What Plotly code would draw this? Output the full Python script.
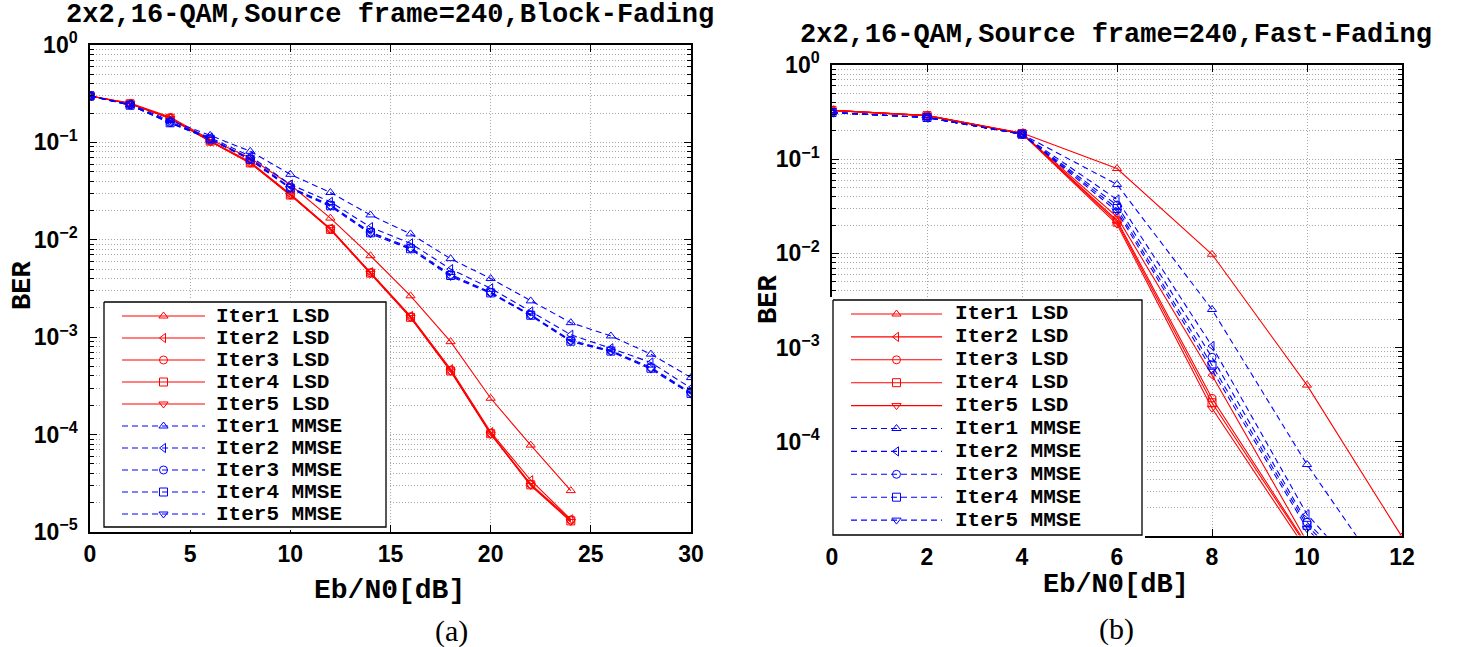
import plotly.graph_objects as go

# ---------------- data ----------------
x_block_lsd = [0, 2, 4, 6, 8, 10, 12, 14, 16, 18, 20, 22, 24]
x_block_mmse = [0, 2, 4, 6, 8, 10, 12, 14, 16, 18, 20, 22, 24, 26, 28, 30]

block_lsd1 = [0.30, 0.254, 0.182, 0.107, 0.069, 0.0367, 0.0167, 0.00686, 0.00266, 0.00090, 0.000236, 7.8e-5, 2.66e-5]
block_lsd2 = [0.30, 0.250, 0.178, 0.104, 0.063, 0.0295, 0.0130, 0.00465, 0.00165, 0.00047, 0.000106, 3.4e-5, 1.35e-5]
block_lsd3 = [0.30, 0.250, 0.177, 0.103, 0.062, 0.0290, 0.0129, 0.00458, 0.00162, 0.000455, 0.000103, 3.1e-5, 1.33e-5]
block_lsd4 = [0.30, 0.249, 0.177, 0.103, 0.0615, 0.0288, 0.0128, 0.00455, 0.00160, 0.00045, 0.000102, 3.05e-5, 1.30e-5]
block_lsd5 = [0.30, 0.249, 0.176, 0.102, 0.0612, 0.0287, 0.0127, 0.00452, 0.00159, 0.000448, 0.000101, 3.0e-5, 1.28e-5]

block_mmse1 = [0.30, 0.245, 0.168, 0.118, 0.081, 0.047, 0.0306, 0.0180, 0.0115, 0.0064, 0.0040, 0.00236, 0.00141, 0.00103, 0.00067, 0.000385]
block_mmse2 = [0.30, 0.243, 0.163, 0.112, 0.072, 0.037, 0.0245, 0.0135, 0.0092, 0.0050, 0.00318, 0.00184, 0.00106, 0.00077, 0.00055, 0.00030]
block_mmse3 = [0.30, 0.242, 0.160, 0.109, 0.068, 0.0345, 0.0228, 0.0120, 0.0083, 0.0044, 0.00290, 0.00170, 0.00093, 0.00073, 0.00049, 0.00027]
block_mmse4 = [0.30, 0.241, 0.159, 0.108, 0.067, 0.0340, 0.0224, 0.0118, 0.0081, 0.0043, 0.00285, 0.00168, 0.00091, 0.00072, 0.00048, 0.000265]
block_mmse5 = [0.30, 0.241, 0.158, 0.108, 0.066, 0.0335, 0.0220, 0.0115, 0.0080, 0.0042, 0.00282, 0.00166, 0.00090, 0.00071, 0.00047, 0.00026]

x_fast = [0, 2, 4, 6, 8, 10, 12]
fast_lsd1 = [0.33, 0.292, 0.190, 0.0796, 0.0098, 0.00040, 9.8e-6]
fast_lsd2 = [0.33, 0.290, 0.188, 0.0244, 0.00051, 8.7e-6, None]
fast_lsd3 = [0.33, 0.290, 0.187, 0.0225, 0.00029, 8.0e-6, None]
fast_lsd4 = [0.33, 0.290, 0.187, 0.0215, 0.00026, 7.7e-6, None]
fast_lsd5 = [0.33, 0.290, 0.187, 0.0204, 0.000227, 7.0e-6, None]

fast_mmse1 = [0.313, 0.277, 0.184, 0.054, 0.00254, 5.75e-5, 2.0e-6]
fast_mmse2 = [0.313, 0.277, 0.184, 0.0374, 0.00104, 1.7e-5, 1.3e-6]
fast_mmse3 = [0.313, 0.277, 0.184, 0.0325, 0.00079, 1.4e-5, 1.4e-6]
fast_mmse4 = [0.313, 0.277, 0.184, 0.0300, 0.00065, 1.3e-5, 1.2e-6]
fast_mmse5 = [0.313, 0.277, 0.184, 0.0280, 0.00058, 1.2e-5, 1.1e-6]

series_names = ["Iter1 LSD", "Iter2 LSD", "Iter3 LSD", "Iter4 LSD", "Iter5 LSD",
                "Iter1 MMSE", "Iter2 MMSE", "Iter3 MMSE", "Iter4 MMSE", "Iter5 MMSE"]

block_x_list = [x_block_lsd] * 5 + [x_block_mmse] * 5
block_y_list = [block_lsd1, block_lsd2, block_lsd3, block_lsd4, block_lsd5,
                block_mmse1, block_mmse2, block_mmse3, block_mmse4, block_mmse5]
fast_y_list = [fast_lsd1, fast_lsd2, fast_lsd3, fast_lsd4, fast_lsd5,
               fast_mmse1, fast_mmse2, fast_mmse3, fast_mmse4, fast_mmse5]

x_ticks_block = [0, 5, 10, 15, 20, 25, 30]
x_ticks_fast = [0, 2, 4, 6, 8, 10, 12]
y_ticks_block = [1e-5, 1e-4, 1e-3, 1e-2, 1e-1, 1]
y_ticks_fast = [1e-4, 1e-3, 1e-2, 1e-1, 1]
y_tick_text_block = ["10<sup>\u22125</sup>", "10<sup>\u22124</sup>", "10<sup>\u22123</sup>",
                     "10<sup>\u22122</sup>", "10<sup>\u22121</sup>", "10<sup>0</sup>"]
y_tick_text_fast = y_tick_text_block[1:]

title_block = "2x2,16-QAM,Source frame=240,Block-Fading"
title_fast = "2x2,16-QAM,Source frame=240,Fast-Fading"

# ---------------- styles ----------------
RED = "#ff0000"
BLUE = "#0000ff"
colors = [RED] * 5 + [BLUE] * 5
dashes = ["solid"] * 5 + ["6px,4px"] * 5
symbols = ["triangle-up-open", "triangle-left-open", "circle-open", "square-open", "triangle-down-open"] * 2

W_FIG, H_FIG = 1459, 647


def fx(p):
    return p / W_FIG


def fy(p):
    return 1 - p / H_FIG


MONO = "Liberation Mono"
SANS = "Liberation Sans"

fig = go.Figure()

for i in range(10):
    fig.add_trace(go.Scatter(
        x=block_x_list[i], y=block_y_list[i], mode="lines+markers",
        line=dict(color=colors[i], width=1.1, dash=dashes[i]),
        marker=dict(symbol=symbols[i], size=8, color=colors[i], line=dict(width=1, color=colors[i])),
        xaxis="x", yaxis="y", showlegend=False, name=series_names[i]))
for i in range(10):
    fig.add_trace(go.Scatter(
        x=x_fast, y=fast_y_list[i], mode="lines+markers",
        line=dict(color=colors[i], width=1.1, dash=dashes[i]),
        marker=dict(symbol=symbols[i], size=8, color=colors[i], line=dict(width=1, color=colors[i])),
        xaxis="x2", yaxis="y2", showlegend=False, name=series_names[i], connectgaps=False))


# ---------------- custom legends ----------------
def add_legend(xa, ya, box, row0, rowstep, s0, s1, toff, fsize):
    bx0, by0, bx1, by1 = box
    W = bx1 - bx0
    H = by1 - by0
    pad = 3
    fig.add_trace(go.Scatter(x=[0, W, W, 0, 0], y=[0, 0, H, H, 0], mode="lines",
                             fill="toself", fillcolor="white",
                             line=dict(color="black", width=1.3),
                             xaxis=xa, yaxis=ya, showlegend=False, hoverinfo="skip"))
    for i in range(10):
        ry = row0 + i * rowstep
        fig.add_trace(go.Scatter(x=[s0, s1], y=[ry, ry], mode="lines",
                                 line=dict(color=colors[i], width=1.1, dash=dashes[i]),
                                 xaxis=xa, yaxis=ya, showlegend=False, hoverinfo="skip"))
        fig.add_trace(go.Scatter(x=[(s0 + s1) / 2], y=[ry], mode="markers",
                                 marker=dict(symbol=symbols[i], size=8, color=colors[i],
                                             line=dict(width=1, color=colors[i])),
                                 xaxis=xa, yaxis=ya, showlegend=False, hoverinfo="skip"))
        fig.add_annotation(x=toff, y=ry, xref=xa, yref=ya, text=series_names[i],
                           showarrow=False, xanchor="left", yanchor="middle",
                           font=dict(family=MONO, size=fsize, color="black", weight="bold"))
    axname_x = "xaxis" + xa[1:]
    axname_y = "yaxis" + ya[1:]
    fig.update_layout(**{
        axname_x: dict(domain=[fx(bx0 - pad), fx(bx1 + pad)], range=[-pad, W + pad],
                       visible=False, anchor=ya, fixedrange=True, automargin=False),
        axname_y: dict(domain=[fy(by1 + pad), fy(by0 - pad)], range=[H + pad, -pad],
                       visible=False, anchor=xa, fixedrange=True, automargin=False),
    })


add_legend("x3", "y3", (104, 302, 386, 527), 14, 22.0, 18, 101, 110, 21)
add_legend("x4", "y4", (833, 300, 1142, 535), 14, 22.9, 18, 109, 120, 21)

# ---------------- axes ----------------
minor_vals = [m * 10 ** e for e in range(-5, 0) for m in range(2, 10)]
GRID = "#a6a6a6"
GDASH = "1px,2px"
tickfont = dict(family=SANS, size=23, color="black", weight="bold")

common = dict(showline=True, linecolor="black", linewidth=1.5, mirror="ticks",
              ticks="inside", ticklen=7, tickwidth=1, tickcolor="black",
              showgrid=True, gridcolor=GRID, griddash=GDASH, gridwidth=1,
              zeroline=False, tickfont=tickfont, automargin=False)
minor = dict(tickmode="array", tickvals=minor_vals, ticks="inside", ticklen=4,
             tickcolor="black", showgrid=True, gridcolor=GRID, griddash=GDASH)

fig.update_layout(
    xaxis=dict(domain=[fx(90), fx(691)], range=[0, 30], tickmode="array",
               tickvals=x_ticks_block, anchor="y", ticklabelstandoff=1, **common),
    yaxis=dict(domain=[fy(532), fy(45)], type="log", range=[-5, 0], tickmode="array",
               tickvals=y_ticks_block, ticktext=y_tick_text_block, anchor="x",
               ticklabelstandoff=6, minor=minor, **common),
    xaxis2=dict(domain=[fx(832), fx(1402)], range=[0, 12], tickmode="array",
                tickvals=x_ticks_fast, anchor="y2", ticklabelstandoff=0, **common),
    yaxis2=dict(domain=[fy(535.5), fy(65)], type="log", range=[-4.994, 0], tickmode="array",
                tickvals=y_ticks_fast, ticktext=y_tick_text_fast, anchor="x2",
                ticklabelstandoff=6, minor=minor, **common),
)


# ---------------- text ----------------
def ann(text, x, y, size, family, bold=True, angle=0):
    fig.add_annotation(text=text, x=fx(x), y=fy(y), xref="paper", yref="paper",
                       showarrow=False, xanchor="center", yanchor="middle", textangle=angle,
                       font=dict(family=family, size=size, color="black",
                                 weight="bold" if bold else "normal"))


ann(title_block, 390, 15, 27, MONO)
ann(title_fast, 1116, 35, 27, MONO)
ann("Eb/N0[dB]", 390, 590, 28, MONO)
ann("Eb/N0[dB]", 1116, 585, 27, MONO)
ann("BER", 23, 286, 27, MONO, angle=-90)
ann("BER", 769, 300, 27, MONO, angle=-90)
ann("(a)", 452, 631, 30, "Liberation Serif", bold=False)
ann("(b)", 1116, 629, 30, "Liberation Serif", bold=False)

fig.update_layout(width=W_FIG, height=H_FIG, margin=dict(l=0, r=0, t=0, b=0, autoexpand=False),
                  paper_bgcolor="white", plot_bgcolor="white", showlegend=False)

fig.write_html("out.html", config={"displayModeBar": False},
               post_script="document.body.style.margin='0px';document.body.style.overflow='hidden';")
